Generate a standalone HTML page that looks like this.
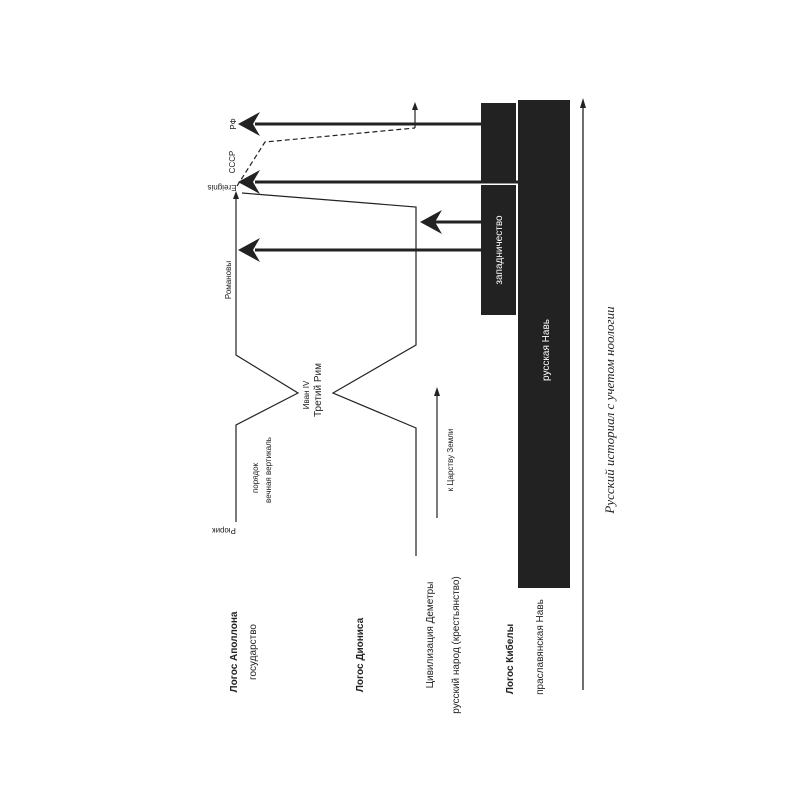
<!DOCTYPE html>
<html><head><meta charset="utf-8"><style>body{margin:0;background:#fff}svg{display:block}</style></head><body>
<svg width="800" height="800" xmlns="http://www.w3.org/2000/svg" font-family="Liberation Sans, DejaVu Sans, sans-serif" fill="#222">
<rect width="800" height="800" fill="#fff"/>
<rect x="481" y="103" width="35" height="78" fill="#222"/>
<rect x="481" y="185" width="35" height="130" fill="#222"/>
<rect x="518" y="100" width="52" height="488" fill="#222"/>
<text transform="translate(502,250) rotate(-90)" text-anchor="middle" font-size="10" fill="#fff">западничество</text>
<text transform="translate(549,350) rotate(-90)" text-anchor="middle" font-size="10" fill="#fff">русская Навь</text>
<line x1="583" y1="690" x2="583" y2="104" stroke="#222" stroke-width="1.3"/>
<polygon points="583,98 580,108 586,108" fill="#222"/>
<text transform="translate(614,410) rotate(-90)" text-anchor="middle" font-size="13" font-style="italic" font-family="Liberation Serif, serif">Русский историал с учетом ноологии</text>
<g stroke="#222" stroke-width="3">
<line x1="481" y1="124" x2="255" y2="124"/>
<line x1="518" y1="182" x2="255" y2="182"/>
<line x1="481" y1="222" x2="432" y2="222"/>
<line x1="481" y1="250" x2="255" y2="250"/>
</g>
<g fill="#222">
<polygon points="238,124 260,112 253,124 260,136"/>
<polygon points="238,182 260,170 253,182 260,194"/>
<polygon points="420,222 442,210 435,222 442,234"/>
<polygon points="238,250 260,238 253,250 260,262"/>
</g>
<g fill="none" stroke="#222" stroke-width="1.2">
<polyline points="236,522 236,425 298,393 236,355 236,197"/>
<polyline points="416,556 416,428 333,393 416,345 416,207 242,193"/>
<line x1="437" y1="518" x2="437" y2="394"/>
<line x1="415" y1="128" x2="415" y2="108"/>
<polyline points="237,186 265,142 415,128" stroke-dasharray="5,3"/>
</g>
<polygon points="236,191 233,199 239,199" fill="#222"/>
<polygon points="437,387 434,396 440,396" fill="#222"/>
<polygon points="415,102 412,110 418,110" fill="#222"/>
<g font-size="8">
<text transform="translate(236,124) rotate(-90)" text-anchor="middle">РФ</text>
<text transform="translate(235,162) rotate(-90)" text-anchor="middle">СССР</text>
<text transform="translate(222,185) rotate(180)" text-anchor="middle">Ereignis</text>
<text transform="translate(231,280) rotate(-90)" text-anchor="middle">Романовы</text>
<text transform="translate(309,395) rotate(-90)" text-anchor="middle">Иван IV</text>
<text transform="translate(258,478) rotate(-90)" text-anchor="middle">порядок</text>
<text transform="translate(271,470) rotate(-90)" text-anchor="middle">вечная вертикаль</text>
<text transform="translate(224,528) rotate(180)" text-anchor="middle">Рюрик</text>
<text transform="translate(453,460) rotate(-90)" text-anchor="middle">к Царству Земли</text>
</g>
<text transform="translate(321,390) rotate(-90)" text-anchor="middle" font-size="10">Третий Рим</text>
<g font-size="10">
<text transform="translate(237,652) rotate(-90)" text-anchor="middle" font-weight="bold">Логос Аполлона</text>
<text transform="translate(256,652) rotate(-90)" text-anchor="middle">государство</text>
<text transform="translate(363,655) rotate(-90)" text-anchor="middle" font-weight="bold">Логос Диониса</text>
<text transform="translate(433,635) rotate(-90)" text-anchor="middle">Цивилизация Деметры</text>
<text transform="translate(459,645) rotate(-90)" text-anchor="middle">русский народ (крестьянство)</text>
<text transform="translate(513,659) rotate(-90)" text-anchor="middle" font-weight="bold">Логос Кибелы</text>
<text transform="translate(543,647) rotate(-90)" text-anchor="middle">праславянская Навь</text>
</g>
</svg>
</body></html>
